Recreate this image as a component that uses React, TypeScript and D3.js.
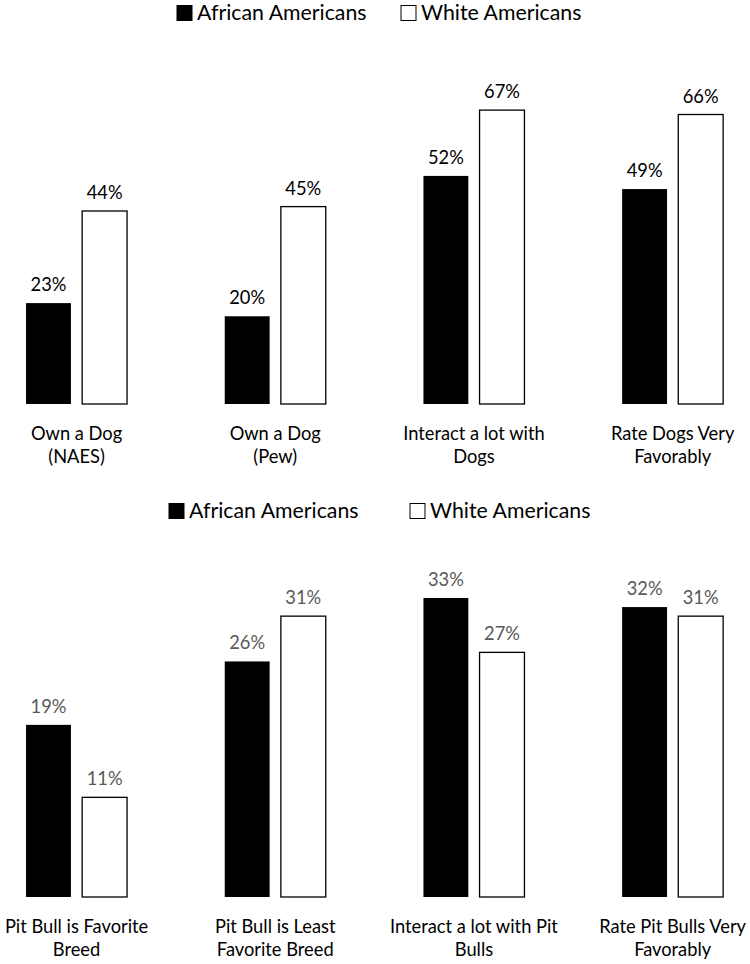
import React from "react";
import * as d3 from "d3";

const series = ["African Americans", "White Americans"];
const topCategories = [
  ["Own a Dog", "(NAES)"],
  ["Own a Dog", "(Pew)"],
  ["Interact a lot with", "Dogs"],
  ["Rate Dogs Very", "Favorably"],
];
const topAfrican = [23, 20, 52, 49];
const topWhite = [44, 45, 67, 66];

const bottomCategories = [
  ["Pit Bull is Favorite", "Breed"],
  ["Pit Bull is Least", "Favorite Breed"],
  ["Interact a lot with Pit", "Bulls"],
  ["Rate Pit Bulls Very", "Favorably"],
];
const bottomAfrican = [19, 26, 33, 32];
const bottomWhite = [11, 31, 27, 31];

const FONT = "Lato, 'Open Sans', sans-serif";

type PanelProps = {
  cats: string[][];
  a: number[];
  w: number[];
  baseline: number;
  yMax: number;
  yTop: number;
  legendY: number;
  legendX: number[];
  labelColor: string;
};

function Panel({ cats, a, w, baseline, yMax, yTop, legendY, legendX, labelColor }: PanelProps) {
  const keys = cats.map((c) => c.join(" "));
  const x = d3.scaleBand<string>().domain(keys).range([-22.8, 772]).padding(0);
  const inner = d3.scaleBand<string>().domain(series).range([-50.5, 50.5]).paddingInner(0.2);
  const y = d3.scaleLinear().domain([0, yMax]).range([baseline, yTop]);
  const vals = [a, w];
  return (
    <g>
      {series.map((s, si) => (
        <g key={s} transform={`translate(${legendX[si]},${legendY})`}>
          <rect
            x={0}
            y={-7.5}
            width={15}
            height={15}
            fill={si === 0 ? "#000" : "#fff"}
            stroke="#000"
            strokeWidth={1}
          />
          <text x={20} y={0} dy="0.35em" fontSize={21.3} fontFamily={FONT} fill="#000">
            {s}
          </text>
        </g>
      ))}
      {keys.map((k, ci) => {
        const cx = (x(k) as number) + x.bandwidth() / 2;
        return (
          <g key={k}>
            {series.map((s, si) => {
              const bx = cx + (inner(s) as number);
              const v = vals[si][ci];
              return (
                <g key={s}>
                  <rect
                    x={bx}
                    y={y(v)}
                    width={inner.bandwidth()}
                    height={baseline - y(v)}
                    fill={si === 0 ? "#000" : "#fff"}
                    stroke="#000"
                    strokeWidth={si === 0 ? 0 : 1.3}
                  />
                  <text
                    x={bx + inner.bandwidth() / 2}
                    y={y(v) - 12}
                    textAnchor="middle"
                    fontSize={18.3}
                    fontFamily={FONT}
                    fill={labelColor}
                  >
                    {v}%
                  </text>
                </g>
              );
            })}
            {cats[ci].map((line, li) => (
              <text
                key={li}
                x={cx}
                y={baseline + 36 + li * 23}
                textAnchor="middle"
                fontSize={18.3}
                fontFamily={FONT}
                fill="#000"
              >
                {line}
              </text>
            ))}
          </g>
        );
      })}
    </g>
  );
}

export default function App() {
  return (
    <svg width={750} height={964} style={{ position: "absolute", left: 0, top: 0, background: "#fff" }}>
      <rect width={750} height={964} fill="#fff" />
      <Panel
        cats={topCategories}
        a={topAfrican}
        w={topWhite}
        baseline={404}
        yMax={80}
        yTop={53.1}
        legendY={13}
        legendX={[177, 401]}
        labelColor="#000"
      />
      <Panel
        cats={bottomCategories}
        a={bottomAfrican}
        w={bottomWhite}
        baseline={897}
        yMax={35}
        yTop={579.9}
        legendY={511}
        legendX={[169, 410]}
        labelColor="#595959"
      />
    </svg>
  );
}
